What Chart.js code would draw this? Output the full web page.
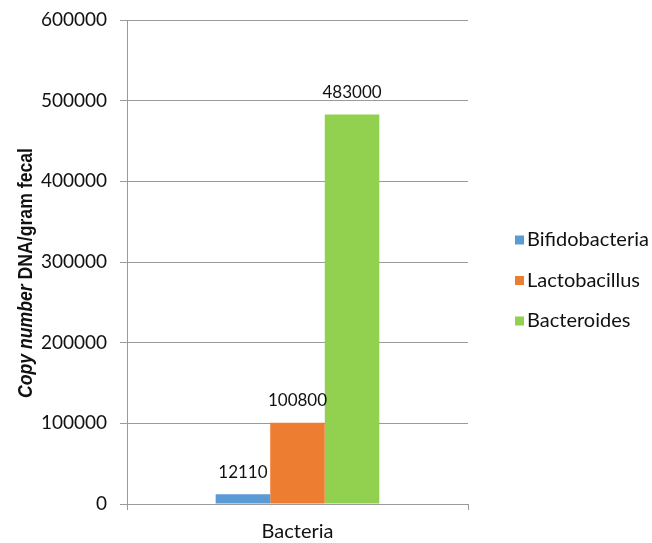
<!DOCTYPE html>
<html>
<head>
<meta charset="utf-8">
<script src="https://cdn.jsdelivr.net/npm/chart.js@4"></script>
<style>
  html, body { margin: 0; padding: 0; background: #fff; }
  #wrap { width: 652px; height: 543px; }
</style>
</head>
<body>
<div id="wrap"><canvas id="bacteriaChart" width="652" height="543"></canvas></div>
<script>
// chart data
const categories = ["Bacteria"]
const seriesNames = ["Bifidobacteria", "Lactobacillus", "Bacteroides"]
const seriesValues = [[12110], [100800], [483000]]
const seriesColors = ["#5B9BD5", "#ED7D31", "#92D050"]
const yTicks = [0, 100000, 200000, 300000, 400000, 500000, 600000]
const yTitleItalic = "Copy number "
const yTitleRest = "DNA/gram fecal"

const font = "Lato, 'Open Sans', sans-serif"
const gridColor = "#9a9a9a"
const textColor = "#111"

// value labels above each bar
const barLabels = {
  id: "barLabels",
  afterDatasetsDraw(chart) {
    const ctx = chart.ctx
    ctx.save()
    ctx.font = "17px " + font
    ctx.fillStyle = textColor
    ctx.textAlign = "center"
    ctx.textBaseline = "middle"
    chart.data.datasets.forEach((ds, i) => {
      chart.getDatasetMeta(i).data.forEach((bar, j) => {
        ctx.fillText(String(ds.data[j]), bar.x, bar.y - 22)
      })
    })
    ctx.restore()
  },
}

// y title with italic part, plus legend on the right
const extras = {
  id: "extras",
  afterDraw(chart) {
    const ctx = chart.ctx
    const area = chart.chartArea
    ctx.save()
    ctx.translate(32, (area.top + area.bottom) / 2 + 11)
    ctx.rotate(-Math.PI / 2)
    ctx.scale(0.84, 1)
    ctx.fillStyle = "#111"
    ctx.textBaseline = "alphabetic"
    ctx.textAlign = "left"
    const f1 = "italic bold 21px 'Liberation Sans', Arial, sans-serif"
    const f2 = "bold 21px 'Liberation Sans', Arial, sans-serif"
    ctx.font = f1
    const w1 = ctx.measureText(yTitleItalic).width
    ctx.font = f2
    const w2 = ctx.measureText(yTitleRest).width
    const start = -(w1 + w2) / 2
    ctx.font = f1
    ctx.fillText(yTitleItalic, start, 0)
    ctx.font = f2
    ctx.fillText(yTitleRest, start + w1, 0)
    ctx.restore()

    ctx.save()
    ctx.font = "20px " + font
    ctx.textBaseline = "middle"
    ctx.textAlign = "left"
    chart.data.datasets.forEach((ds, i) => {
      const cy = 240 + i * 40.5
      ctx.fillStyle = ds.backgroundColor
      ctx.fillRect(515, cy - 4.5, 9, 9)
      ctx.fillStyle = textColor
      ctx.fillText(ds.label, 527, cy)
    })
    ctx.restore()
  },
}

new Chart(document.getElementById("bacteriaChart"), {
  type: "bar",
  data: {
    labels: categories,
    datasets: seriesNames.map((name, i) => ({
      label: name,
      data: seriesValues[i],
      backgroundColor: seriesColors[i],
      borderWidth: 0,
      categoryPercentage: 0.48,
      barPercentage: 1.0,
    })),
  },
  options: {
    responsive: false,
    animation: false,
    layout: { padding: { top: 20, right: 184, left: 0, bottom: 0 } },
    plugins: {
      legend: { display: false },
      tooltip: { enabled: false },
    },
    scales: {
      x: {
        grid: { drawOnChartArea: false, drawTicks: true, tickLength: 6, color: gridColor },
        border: { display: true, color: gridColor },
        ticks: { padding: 10, color: textColor, font: { family: font, size: 20 } },
        afterFit(scale) { scale.height = 39 },
      },
      y: {
        min: 0,
        max: yTicks[yTicks.length - 1],
        afterBuildTicks(scale) { scale.ticks = yTicks.map((v) => ({ value: v })) },
        grid: { color: gridColor, tickLength: 7 },
        border: { display: true, color: gridColor },
        ticks: {
          padding: 13,
          color: textColor,
          font: { family: font, size: 19 },
          callback: (v) => String(v),
        },
        afterFit(scale) {
          scale.width = 127
          scale.paddingTop = 0
          scale.paddingBottom = 0
        },
      },
    },
  },
  plugins: [barLabels, extras],
})
</script>
</body>
</html>
